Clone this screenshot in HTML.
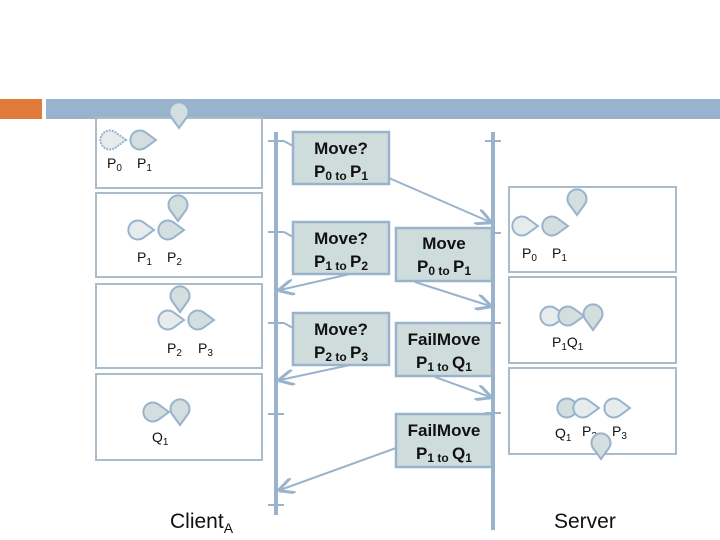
<html><body style="margin:0;background:#fff">
<svg width="720" height="540" xmlns="http://www.w3.org/2000/svg" font-family="Liberation Sans, sans-serif">
<defs>
<marker id="a" markerWidth="8" markerHeight="8" refX="7" refY="4" orient="auto"><path d="M0,0 L8,4 L0,8" fill="none" stroke="#9ab3cc" stroke-width="1.5"/></marker>
<path id="r" d="M16,0 L5,-8 A9.5,9.5 0 1 0 5,8 Z"/>
<path id="d" d="M0,16 L-8,5 A9.5,9.5 0 1 1 8,5 Z"/>
</defs>
<rect x="0" y="99" width="42" height="20" fill="#e07b3c"/>
<rect x="46" y="99" width="674" height="20" fill="#9ab3cc"/>
<g fill="none" stroke="#a9bccc" stroke-width="2">
<rect x="96" y="118" width="166" height="70"/>
<rect x="96" y="193" width="166" height="84"/>
<rect x="96" y="284" width="166" height="84"/>
<rect x="96" y="374" width="166" height="86"/>
<rect x="509" y="187" width="167" height="85"/>
<rect x="509" y="277" width="167" height="86"/>
<rect x="509" y="368" width="167" height="86"/>
</g>
<g stroke="#9ab3cc" stroke-width="4"><line x1="276" y1="132" x2="276" y2="515"/><line x1="493" y1="132" x2="493" y2="530"/></g>
<g stroke="#9ab3cc" stroke-width="2">
<line x1="268" y1="141" x2="284" y2="141"/><line x1="268" y1="232" x2="284" y2="232"/><line x1="268" y1="323" x2="284" y2="323"/><line x1="268" y1="414" x2="284" y2="414"/><line x1="268" y1="505" x2="284" y2="505"/>
<line x1="485" y1="141" x2="501" y2="141"/><line x1="485" y1="233" x2="501" y2="233"/><line x1="485" y1="323" x2="501" y2="323"/><line x1="485" y1="413" x2="501" y2="413"/>
<line x1="284" y1="141" x2="293" y2="146"/><line x1="284" y1="232" x2="293" y2="237"/><line x1="284" y1="323" x2="293" y2="328"/>
<line x1="389" y1="178" x2="490" y2="222" marker-end="url(#a)"/>
<line x1="350" y1="274" x2="280" y2="290" marker-end="url(#a)"/>
<line x1="350" y1="365" x2="280" y2="380" marker-end="url(#a)"/>
<line x1="396" y1="448" x2="280" y2="490" marker-end="url(#a)"/>
<line x1="415" y1="282" x2="490" y2="306" marker-end="url(#a)"/>
<line x1="435" y1="377" x2="490" y2="397" marker-end="url(#a)"/>
</g>
<g fill="#cfdcdc" stroke="#9ab3cc" stroke-width="2.5">
<rect x="293" y="132" width="96" height="52"/><rect x="293" y="222" width="96" height="52"/><rect x="293" y="313" width="96" height="52"/>
<rect x="396" y="228" width="96" height="53"/><rect x="396" y="323" width="96" height="53"/><rect x="396" y="414" width="96" height="53"/>
</g>
<g font-weight="bold" font-size="17" text-anchor="middle" fill="#111">
<text x="341" y="154">Move?</text><text x="341" y="177">P<tspan font-size="12" dy="3">0 to </tspan><tspan dy="-3">P</tspan><tspan font-size="12" dy="3">1</tspan></text>
<text x="341" y="244">Move?</text><text x="341" y="267">P<tspan font-size="12" dy="3">1 to </tspan><tspan dy="-3">P</tspan><tspan font-size="12" dy="3">2</tspan></text>
<text x="341" y="335">Move?</text><text x="341" y="358">P<tspan font-size="12" dy="3">2 to </tspan><tspan dy="-3">P</tspan><tspan font-size="12" dy="3">3</tspan></text>
<text x="444" y="249">Move</text><text x="444" y="272">P<tspan font-size="12" dy="3">0 to </tspan><tspan dy="-3">P</tspan><tspan font-size="12" dy="3">1</tspan></text>
<text x="444" y="345">FailMove</text><text x="444" y="368">P<tspan font-size="12" dy="3">1 to </tspan><tspan dy="-3">Q</tspan><tspan font-size="12" dy="3">1</tspan></text>
<text x="444" y="436">FailMove</text><text x="444" y="459">P<tspan font-size="12" dy="3">1 to </tspan><tspan dy="-3">Q</tspan><tspan font-size="12" dy="3">1</tspan></text>
</g>
<g fill="#d3dede" stroke="#9ab3cc" stroke-width="2">
<use href="#r" x="110" y="140" fill="#e6ecec" stroke-dasharray="2,1"/>
<use href="#r" x="140" y="140"/>
<use href="#d" x="179" y="112"/>
<use href="#d" x="178" y="205"/>
<use href="#r" x="138" y="230" fill="#e6ecec"/>
<use href="#r" x="168" y="230"/>
<use href="#d" x="180" y="296"/>
<use href="#r" x="168" y="320" fill="#e6ecec"/>
<use href="#r" x="198" y="320"/>
<use href="#r" x="153" y="412"/>
<use href="#d" x="180" y="409"/>
<use href="#r" x="522" y="226" fill="#e6ecec"/>
<use href="#r" x="552" y="226"/>
<use href="#d" x="577" y="199"/>
<use href="#r" x="550" y="316" fill="#e6ecec"/>
<use href="#r" x="568" y="316"/>
<use href="#d" x="593" y="314"/>
<use href="#r" x="567" y="408"/>
<use href="#r" x="583" y="408" fill="#e6ecec"/>
<use href="#r" x="614" y="408" fill="#e6ecec"/>
</g>
<g font-size="14" fill="#111">
<text x="107" y="168">P<tspan font-size="10" dy="3">0</tspan></text><text x="137" y="168">P<tspan font-size="10" dy="3">1</tspan></text>
<text x="137" y="262">P<tspan font-size="10" dy="3">1</tspan></text><text x="167" y="262">P<tspan font-size="10" dy="3">2</tspan></text>
<text x="167" y="353">P<tspan font-size="10" dy="3">2</tspan></text><text x="198" y="353">P<tspan font-size="10" dy="3">3</tspan></text>
<text x="152" y="442">Q<tspan font-size="10" dy="3">1</tspan></text>
<text x="522" y="258">P<tspan font-size="10" dy="3">0</tspan></text><text x="552" y="258">P<tspan font-size="10" dy="3">1</tspan></text>
<text x="552" y="347">P<tspan font-size="10" dy="3">1</tspan><tspan dy="-3">Q</tspan><tspan font-size="10" dy="3">1</tspan></text>
<text x="555" y="438">Q<tspan font-size="10" dy="3">1</tspan></text><text x="582" y="436">P<tspan font-size="10" dy="3">2</tspan></text><text x="612" y="436">P<tspan font-size="10" dy="3">3</tspan></text>
</g>
<use href="#d" x="601" y="443" fill="#d3dede" stroke="#9ab3cc" stroke-width="2"/>
<text x="170" y="528" font-size="21" fill="#111">Client<tspan font-size="14" dy="5">A</tspan></text>
<text x="554" y="528" font-size="21" fill="#111">Server</text>
</svg>
</body></html>
